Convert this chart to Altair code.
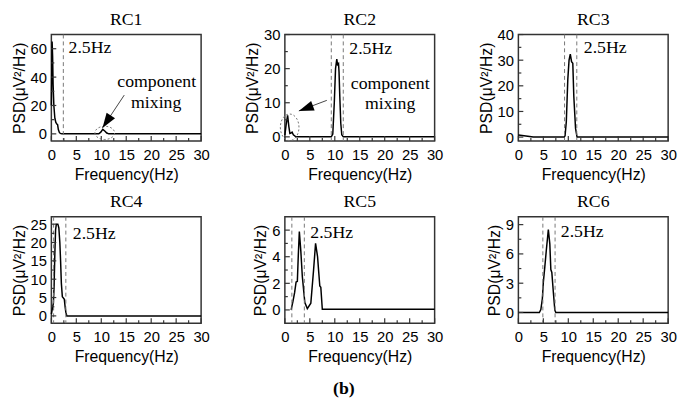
import altair as alt
import pandas as pd

# ---------------- data ----------------
rc1_f = [0, 0.15, 0.25, 0.35, 0.5, 0.7, 0.9, 1.1, 1.25, 1.4, 1.6, 1.8, 2.1, 9.5, 9.9, 10.3, 10.7, 11.1, 11.5, 30]
rc1_v = [20, 65, 55, 35, 20, 11, 8, 7, 6.5, 3, 1, 0.3, 0, 0, 1.2, 3.2, 2.0, 0.6, 0, 0]

rc2_f = [0, 0.25, 0.55, 0.8, 1.0, 1.2, 1.45, 1.7, 2.2, 9.3, 9.6, 9.9, 10.15, 10.4, 10.55, 10.75, 10.85, 11.0, 11.2, 11.4, 11.7, 30]
rc2_v = [0.5, 3.5, 6.3, 3, 1, 1.1, 1.4, 0.6, 0, 0, 0.8, 10, 20, 22.8, 21.2, 21.5, 19, 12, 4, 0.6, 0, 0]

rc3_f = [0, 1.5, 3, 9.2, 9.35, 9.6, 9.9, 10.15, 10.4, 10.65, 10.9, 11.1, 11.45, 11.75, 30]
rc3_v = [0.8, 0.4, 0, 0, 0.5, 6, 22.5, 30, 32.4, 29.4, 28.8, 16, 3.4, 0, 0]

rc4_f = [0, 0.2, 0.4, 0.55, 0.7, 0.85, 1.0, 1.3, 1.5, 1.7, 1.85, 2.0, 2.2, 2.4, 2.6, 2.75, 2.9, 3.1, 30]
rc4_v = [0.5, 2, 3.4, 8, 17, 23.5, 25, 25, 24, 20, 15, 9, 5.2, 4.9, 4.5, 2.5, 1, 0, 0]

rc5_f = [1.25, 1.6, 1.95, 2.25, 2.5, 2.7, 2.9, 3.2, 3.5, 4.0, 4.5, 5.2, 5.75, 6.15, 6.55, 6.75, 7.0, 7.2, 7.5, 30]
rc5_v = [0, 0.6, 1.3, 2.1, 2.15, 4.2, 5.9, 4.4, 2.5, 0.55, 0.1, 0.5, 3.0, 5.0, 4.0, 3.0, 1.8, 1.7, 0.05, 0.05]

rc6_f = [0, 4.2, 4.5, 4.8, 5.0, 5.3, 5.6, 6.0, 6.3, 6.5, 6.7, 7.0, 7.3, 7.5, 30]
rc6_v = [0, 0, 0.3, 1.4, 3.1, 4.7, 6.4, 8.5, 7.0, 4.4, 4.1, 2.1, 0.25, 0, 0]

names = ["RC1", "RC2", "RC3", "RC4", "RC5", "RC6"]
curves = [(rc1_f, rc1_v), (rc2_f, rc2_v), (rc3_f, rc3_v),
          (rc4_f, rc4_v), (rc5_f, rc5_v), (rc6_f, rc6_v)]
y_domains = [[-5, 70], [-1.2, 30], [-1.5, 40], [-2, 27], [-1, 7], [-1.1, 9.8]]
y_major = [[0, 20, 40, 60], [0, 10, 20, 30], [0, 10, 20, 30, 40],
           [0, 5, 10, 15, 20, 25], [0, 2, 4, 6], [0, 3, 6, 9]]
y_minor = [[10, 30, 50], [5, 15, 25], [5, 15, 25, 35],
           [2.5, 7.5, 12.5, 17.5, 22.5], [1, 3, 5], [1.5, 4.5, 7.5]]
x_major = [0, 5, 10, 15, 20, 25, 30]
x_minor = [2.5, 7.5, 12.5, 17.5, 22.5, 27.5]
band_lines = [[2.4], [9.3, 11.7], [9.25, 11.7], [0.45, 2.9], [1.4, 3.9], [4.9, 7.35]]
band_label = "2.5Hz"
band_label_at = [(3.45, 60.5), (12.9, 25.6), (13.1, 34.6), (4.3, 22.3), (5.1, 5.8), (8.5, 8.2)]
mix_words = ["component", "mixing"]
mix_text_at = {0: [(21.1, 36.3), (21.0, 21.4)], 1: [(21.1, 15.6), (21.1, 9.7)]}
ellipse_at = {0: (10.7, 0.7), 1: (0.96, 2.8)}
arrow_from_to = {0: ((14.6, 27.3), (10.24, 4.2)), 1: ((8.4, 10.7), (2.8, 7.6))}

# ---------------- styling ----------------
W, H = 152, 108
SANS = "Liberation Sans"
SERIF = "Liberation Serif"
ELL_WIDE = "M-1,0 A1,0.67 0 1,0 1,0 A1,0.67 0 1,0 -1,0"
ELL_TALL = "M-0.7,0 A0.7,1 0 1,0 0.7,0 A0.7,1 0 1,0 -0.7,0"
ARROW = "M0,0 L0.75,2.2 L-0.75,2.2 Z"
ellipse_style = {0: (ELL_WIDE, 400), 1: (ELL_TALL, 729)}
arrow_angle = {0: 214, 1: 250}


def panel(i):
    xs = alt.Scale(domain=[0, 30], nice=False, zero=False)
    ys = alt.Scale(domain=y_domains[i], nice=False, zero=False)
    xaxis = alt.Axis(values=x_major, title="Frequency(Hz)", labelFlush=False,
                     labelFontSize=15, titleFontSize=16, labelPadding=7,
                     titlePadding=4, ticks=False, domain=False, grid=False)
    yaxis = alt.Axis(values=y_major[i], title="PSD(μV²/Hz)", labelFlush=False,
                     labelFontSize=15, titleFontSize=16, labelPadding=5,
                     titlePadding=3, ticks=False, domain=False, grid=False)
    X = alt.X("f:Q", scale=xs, axis=xaxis)
    Y = alt.Y("v:Q", scale=ys, axis=yaxis)

    f, v = curves[i]
    layers = []
    layers.append(alt.Chart(pd.DataFrame({"f": f, "v": v})).mark_line(
        color="black", strokeWidth=1.5, interpolate="linear").encode(x=X, y=Y))
    # band lines
    layers.append(alt.Chart(pd.DataFrame({"f": band_lines[i]})).mark_rule(
        color="#777", strokeWidth=1, strokeDash=[4, 3]).encode(x=X))
    # inward ticks
    layers.append(alt.Chart(pd.DataFrame({"f": x_major})).mark_rule(
        color="#333", strokeWidth=1.2).encode(x=X, y=alt.value(H), y2=alt.value(H - 5)))
    layers.append(alt.Chart(pd.DataFrame({"f": x_minor})).mark_rule(
        color="#333", strokeWidth=1.2).encode(x=X, y=alt.value(H), y2=alt.value(H - 3)))
    layers.append(alt.Chart(pd.DataFrame({"v": y_major[i]})).mark_rule(
        color="#333", strokeWidth=1.2).encode(y=Y, x=alt.value(0), x2=alt.value(5)))
    layers.append(alt.Chart(pd.DataFrame({"v": y_minor[i]})).mark_rule(
        color="#333", strokeWidth=1.2).encode(y=Y, x=alt.value(0), x2=alt.value(3)))
    # panel title
    layers.append(alt.Chart(pd.DataFrame({"t": [names[i]]})).mark_text(
        font=SERIF, fontSize=18, align="center", baseline="middle", color="black").encode(
        x=alt.value(W / 2), y=alt.value(-15), text="t:N"))
    # 2.5Hz label
    bx, by = band_label_at[i]
    layers.append(alt.Chart(pd.DataFrame({"f": [bx], "v": [by], "t": [band_label]})).mark_text(
        font=SERIF, fontSize=18, align="left", baseline="middle", color="black").encode(
        x=X, y=Y, text="t:N"))
    if i in mix_text_at:
        pts = mix_text_at[i]
        layers.append(alt.Chart(pd.DataFrame({"f": [p[0] for p in pts], "v": [p[1] for p in pts],
                                              "t": mix_words})).mark_text(
            font=SERIF, fontSize=18, align="center", baseline="middle", color="black").encode(
            x=X, y=Y, text="t:N"))
        ex, ey = ellipse_at[i]
        shp, sz = ellipse_style[i]
        layers.append(alt.Chart(pd.DataFrame({"f": [ex], "v": [ey]})).mark_point(
            shape=shp, size=sz, filled=False, color="#777", strokeWidth=1,
            strokeDash=[2, 2], opacity=1).encode(x=X, y=Y))
        (sx, sy), (tx, ty) = arrow_from_to[i]
        layers.append(alt.Chart(pd.DataFrame({"f": [sx], "v": [sy], "f2": [tx], "v2": [ty]})).mark_rule(
            color="#444", strokeWidth=1).encode(x=X, y=Y, x2="f2:Q", y2="v2:Q"))
        layers.append(alt.Chart(pd.DataFrame({"f": [tx], "v": [ty]})).mark_point(
            shape=ARROW, size=190, filled=True, color="black", opacity=1,
            angle=arrow_angle[i]).encode(x=X, y=Y))
    return alt.layer(*layers).properties(width=W, height=H)


chart = alt.concat(*[panel(i) for i in range(6)], columns=3,
                   spacing=alt.RowColnumber(row=9, column=33)).properties(
    title=alt.TitleParams("(b)", orient="bottom", anchor="middle", font=SERIF,
                          fontSize=18, fontWeight="bold", offset=15, color="black"),
    padding={"left": 2, "top": -1, "right": 0, "bottom": 0},
).configure_view(stroke="#333", strokeWidth=1.5).configure_axis(
    labelFont=SANS, titleFont=SANS, labelColor="black", titleColor="black",
    titleFontWeight="normal")

chart.save("out.html", embed_options={"renderer": "svg", "actions": False})
